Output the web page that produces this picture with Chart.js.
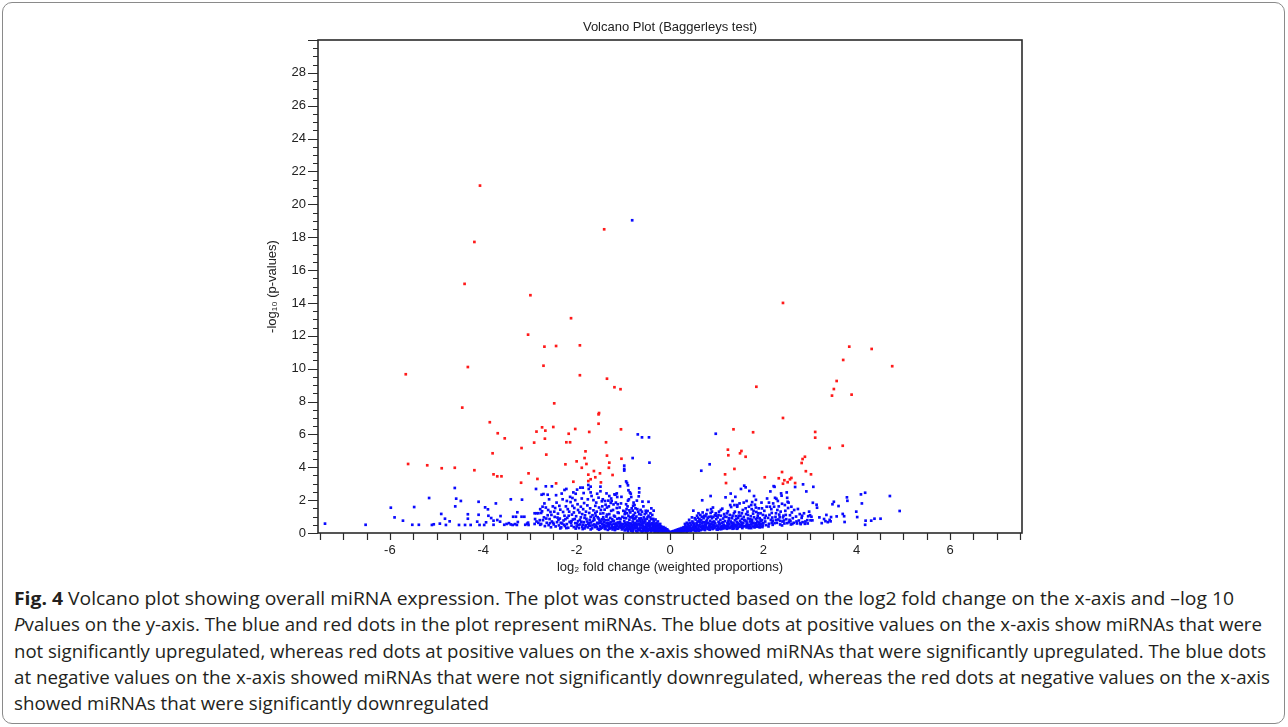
<!DOCTYPE html>
<html>
<head>
<meta charset="utf-8">
<script src="https://cdn.jsdelivr.net/npm/chart.js@4.4.1/dist/chart.umd.min.js"></script>
<style>
  html, body { margin: 0; padding: 0; background: #fff; }
  #frame { position: absolute; left: 2px; top: 2px; width: 1283px; height: 722px; border: 1px solid #8a8a8a; border-radius: 10px; box-sizing: border-box; }
  #wrap { position: absolute; left: 0; top: 0; width: 1288px; height: 580px; }
  #caption { position: absolute; left: 14px; top: 585px; font-family: "Open Sans", "Noto Sans", sans-serif; font-size: 18px; color: #231f20; line-height: 26.3px; }
  #caption div { white-space: nowrap; width: max-content; transform-origin: 0 0; }
</style>
</head>
<body>
<div id="frame"></div>
<div id="wrap"><canvas id="volcano" width="1288" height="580"></canvas></div>
<div id="caption">
  <div><b>Fig. 4</b> Volcano plot showing overall miRNA expression. The plot was constructed based on the log2 fold change on the x-axis and –log 10</div>
  <div><i>P</i>values on the y-axis. The blue and red dots in the plot represent miRNAs. The blue dots at positive values on the x-axis show miRNAs that were</div>
  <div>not significantly upregulated, whereas red dots at positive values on the x-axis showed miRNAs that were significantly upregulated. The blue dots</div>
  <div>at negative values on the x-axis showed miRNAs that were not significantly downregulated, whereas the red dots at negative values on the x-axis</div>
  <div>showed miRNAs that were significantly downregulated</div>
</div>
<script>
// axis ranges / ticks
const xRange = [-7.54, 7.54];
const yRange = [0, 30];
const xLabelStep = 2;
const yLabelStep = 2;
const minorStep = 0.5;

// significant (red) miRNAs: [log2 FC, -log10 p]
const sigDown = [
  [-4.07,21.14],[-1.41,18.48],[-4.19,17.71],[-4.40,15.16],[-2.99,14.47],[-2.12,13.07],[-3.04,12.07],
  [-2.69,11.34],[-2.44,11.38],[-1.93,11.42],[-4.33,10.10],[-2.71,10.18],[-5.66,9.66],[-1.93,9.60],
  [-1.35,9.39],[-1.19,8.87],[-1.06,8.75],[-4.45,7.63],[-2.48,7.89],[-1.52,7.30],[-1.53,7.22],[-1.53,6.65],
  [-3.86,6.74],[-3.69,6.07],[-3.54,5.76],[-2.74,6.43],[-2.86,6.17],[-2.67,6.23],[-2.50,6.45],[-2.68,5.74],
  [-2.91,5.50],[-2.03,6.33],[-2.17,6.04],[-2.22,5.52],[-2.14,5.52],[-1.73,6.15],[-1.05,6.31],[-1.37,5.52],
  [-3.18,5.17],[-3.80,4.85],[-2.65,4.77],[-1.81,4.97],[-1.83,4.56],[-2.00,4.36],[-1.79,4.20],[-1.89,3.97],
  [-2.24,4.18],[-1.35,4.71],[-1.30,4.28],[-1.31,3.97],[-1.04,4.52],[-1.63,3.77],[-1.75,3.55],[-1.70,3.27],
  [-1.60,3.39],[-1.50,3.63],[-1.48,3.08],[-1.75,3.16],[-1.23,3.53],[-2.07,3.12],[-2.84,3.29],[-3.03,3.63],
  [-3.19,3.06],[-2.44,3.02],[-3.78,3.57],[-3.70,3.45],[-3.61,3.45],[-4.19,3.82],[-5.61,4.20],[-5.20,4.12],
  [-4.89,3.94],[-4.61,3.97]
];
const sigUp = [
  [2.42,14.0],[3.84,11.34],[4.32,11.2],[3.71,10.53],[4.76,10.15],[3.57,9.25],[3.51,8.76],[3.47,8.36],
  [3.89,8.42],[1.85,8.9],[2.42,7.0],[1.36,6.31],[1.78,6.13],[3.11,6.15],[3.11,5.80],[3.42,5.17],[3.70,5.31],
  [1.24,5.07],[1.25,4.73],[1.53,4.99],[1.50,4.85],[1.62,4.64],[2.89,4.64],[2.84,4.50],[2.82,4.26],[1.38,3.90],
  [1.18,3.57],[2.91,3.76],[3.02,3.57],[2.03,3.39],[2.40,3.71],[2.33,3.33],[2.45,3.21],[2.52,3.09],[2.57,3.27],
  [2.60,3.35],[2.42,3.00],[2.68,3.04],[1.20,3.04]
];

// not significant (blue) miRNAs
const nsFarLeft = [
  [-7.39,0.57],[-6.52,0.50],[-5.98,1.54],[-5.90,0.95],[-5.72,0.75],[-5.52,0.50],[-5.38,0.50],[-5.48,1.58],
  [-5.16,2.13],[-5.10,0.49],[-5.06,0.53],[-4.93,0.57],[-4.80,0.49],[-4.90,1.16],[-4.82,0.87],[-4.72,0.71],
  [-4.61,2.74],[-4.58,2.09],[-4.48,1.95],[-4.60,1.62],[-4.52,0.49],[-4.39,0.49],[-4.27,0.49],[-4.33,1.14],
  [-4.33,0.87],[-4.13,0.69],[-4.08,0.49],[-3.98,0.49],[-4.10,1.90],[-4.10,1.11],[-3.96,1.56],[-3.90,1.44],
  [-3.89,1.05],[-3.83,0.91],[-3.78,0.75],[-3.78,0.50],[-3.94,0.65],[-3.73,1.80],[-3.70,0.79],[-3.63,1.03],
  [-3.64,0.69],[-3.55,0.50],[-3.50,0.55],[-3.45,0.60],[-3.41,0.52],[-3.37,0.49],[-3.32,0.54],[-3.28,0.49],
  [-3.41,2.05],[-3.36,0.99],[-3.30,0.99],[-3.27,1.26],[-3.17,2.03],[-3.18,0.99],[-3.12,0.99],[-3.26,0.67],
  [-3.10,0.50],[-3.06,0.57],[-3.04,0.63],[-3.03,0.49],[-2.90,1.20],[-2.86,1.20],[-2.82,1.20],[-2.89,0.85],
  [-2.86,0.70],[-2.82,0.62],[-2.79,0.78],[-2.76,1.22],[-2.90,0.55],[-2.78,0.50],[-2.87,2.68],[-2.75,2.33],
  [-2.73,1.60]
];
const nsLeftUpper = [
  [-0.81,19.03],[-0.69,6.00],[-0.60,5.82],[-0.45,5.82],[-0.80,4.56],[-0.44,4.28],[-0.98,4.10],[-0.98,3.90],
  [-0.98,3.80],[-0.94,3.14],[-0.92,3.04],[-0.90,2.90],[-2.66,2.84],[-2.53,2.84],[-2.71,2.37],[-2.62,2.33],
  [-2.26,2.62],[-2.22,2.68],[-2.07,2.47],[-2.02,2.39],[-2.09,2.13],[-1.99,2.64],[-1.92,2.76],[-1.87,2.76],
  [-1.85,2.43],[-1.75,2.92],[-1.74,2.68],[-1.70,2.82],[-1.70,2.47],[-1.49,2.82],[-1.49,2.54],[-1.56,2.39],
  [-1.36,2.41],[-1.30,2.25],[-1.17,2.33],[-1.14,2.41],[-1.13,2.19],[-1.07,2.84],[-1.46,1.93],[-1.38,1.72],
  [-1.32,1.97],[-1.27,1.83],[-1.21,1.74],[-0.89,2.60],[-0.86,2.47],[-0.84,2.39],[-0.83,2.19],[-0.90,1.97],
  [-0.66,2.72],[-0.66,2.47],[-0.67,2.23],[-0.59,1.91],[-0.71,1.97],[-0.78,1.85],[-0.79,1.66],[-0.74,1.50],
  [-0.80,1.36],[-0.46,1.90],[-0.48,1.34],[-0.40,1.50],[-0.35,1.36],[-0.51,1.22],
  [-2.69,1.80],[-2.65,0.88],[-2.61,1.40],[-2.59,2.05],[-2.54,1.10],[-2.50,0.62],[-2.46,1.52],[-2.44,2.30],
  [-2.41,0.94],[-2.37,1.65],[-2.34,0.62],[-2.32,2.40],[-2.29,1.28],[-2.24,0.84],[-2.21,1.95],[-2.17,1.05],
  [-2.14,2.20],[-2.11,0.72],[-2.09,1.65],[-2.06,1.25],[-2.03,2.00]
];
const nsLeftMid = [
  [-2.78,1.45],[-2.74,1.32],[-2.72,0.78],[-2.70,0.95],[-2.68,0.42],[-2.66,1.55],[-2.64,0.62],[-2.62,1.08],
  [-2.60,0.48],[-2.58,0.85],[-2.56,1.28],[-2.55,0.35],[-2.53,0.70],[-2.51,1.62],[-2.49,0.52],[-2.47,0.98],
  [-2.45,0.40],[-2.43,1.85],[-2.42,0.66],[-2.40,1.18],[-2.38,0.46],[-2.36,0.88],[-2.35,1.42],[-2.33,0.34],
  [-2.31,0.58],[-2.30,2.05],[-2.28,0.76],[-2.26,1.05],[-2.25,0.42],[-2.23,1.62],[-2.21,0.54],[-2.20,0.92],
  [-2.18,0.32],[-2.16,1.30],[-2.15,0.68],[-2.13,1.88],[-2.11,0.45],[-2.10,1.12],[-2.08,0.82],[-2.06,0.36],
  [-2.05,1.52],[-2.03,0.60],[-2.01,1.02],[-2.00,0.40],[-1.98,1.75],[-1.97,0.72],[-1.95,0.30],[-1.94,1.25],
  [-1.92,0.52],[-1.91,0.95],[-1.89,2.10],[-1.88,0.38],[-1.86,1.45],[-1.85,0.66],[-1.83,0.28],[-1.82,1.08],
  [-1.80,0.48],[-1.79,0.86],[-1.77,1.68],[-1.76,0.34],[-1.74,0.62],[-1.73,1.22],[-1.71,0.44],[-1.70,0.98],
  [-1.68,2.25],[-1.67,0.28],[-1.65,0.74],[-1.64,1.38],[-1.62,0.52],[-1.61,0.36],[-1.59,1.05],[-1.58,1.85],
  [-1.56,0.62],[-1.55,0.26],[-1.53,0.88],[-1.52,1.55],[-1.50,0.42],[-1.49,1.18],[-1.47,0.70],[-1.46,0.32],
  [-1.44,2.05],[-1.43,0.96],[-1.41,0.50],[-1.40,1.42],[-1.38,0.24],[-1.37,0.78],[-1.35,1.12],[-1.34,0.40],
  [-1.32,0.62],[-1.31,1.62],[-1.29,0.30],[-1.28,0.92],[-1.26,1.35],[-1.25,0.48],[-1.23,0.22],[-1.22,0.72],
  [-1.20,1.05],[-1.19,2.35],[-1.17,0.38],[-1.16,0.58],[-1.14,1.52],[-1.13,0.86],[-1.11,0.26],[-1.10,1.22],
  [-1.08,0.46],[-1.07,0.68],[-1.05,1.80],[-1.04,0.32],[-1.02,0.98],[-1.01,0.54],
  [-2.76,0.55],[-2.57,0.60],[-2.48,1.30],[-2.39,0.80],[-2.27,0.50],[-2.19,1.45],[-2.12,0.62],[-2.04,0.85],
  [-1.96,0.48],[-1.90,0.68],[-1.84,1.82],[-1.81,0.40],[-1.75,0.55],[-1.72,0.80],[-1.66,0.46],[-1.63,0.92],
  [-1.60,1.20],[-1.57,0.38],[-1.54,0.58],[-1.51,0.76],[-1.48,0.30],[-1.45,0.55],[-1.42,0.82],[-1.39,0.36],
  [-1.36,1.00],[-1.33,0.52],[-1.30,0.26],[-1.27,0.66],[-1.24,0.84],[-1.21,0.34],[-1.18,0.52],[-1.15,0.28],
  [-1.12,0.64],[-1.09,0.90],[-1.06,0.40],[-1.03,0.22],[-1.60,1.65],[-1.45,1.62],[-1.25,1.95],[-1.12,1.75],
  [-2.35,0.28],[-2.22,0.30],[-2.02,0.27],[-1.87,0.24],[-1.70,0.22],[-1.52,0.20],[-1.33,0.19],[-1.18,0.18],
  [-1.99,0.58],[-1.97,1.40],[-1.93,0.80],[-1.91,1.60],[-1.88,1.15],[-1.86,0.50],[-1.83,0.92],[-1.80,1.30],
  [-1.78,0.70],[-1.76,2.05],[-1.73,0.48],[-1.71,1.50],[-1.69,0.64],[-1.66,1.08],[-1.64,2.00],[-1.62,0.80],
  [-1.59,0.46],[-1.57,1.30],[-1.55,0.96],[-1.53,2.15],[-1.50,0.62],[-1.48,1.40],[-1.46,0.84],[-1.43,1.20],
  [-1.41,0.66],[-1.39,1.95],[-1.37,0.44],[-1.35,1.55],[-1.32,0.80],[-1.30,1.15],[-1.28,0.56],[-1.26,2.10],
  [-1.24,0.36],[-1.22,1.40],[-1.20,0.74],[-1.18,1.00],[-1.16,1.85],[-1.14,0.44],[-1.12,1.25],[-1.10,0.60],
  [-1.08,1.55],[-1.06,0.86],[-1.04,2.20],[-1.02,0.42],[-1.49,0.26],[-1.44,0.40],[-1.40,0.28],[-1.36,0.60],
  [-1.31,0.44],[-1.26,0.30],[-1.21,0.56],[-1.17,0.24],[-1.13,0.46],[-1.09,0.34],[-1.05,0.56],[-1.01,0.28]
];
const nsLeftNear = [
  [-0.99,0.35],[-0.98,0.72],[-0.97,1.15],[-0.96,0.20],[-0.95,0.52],[-0.94,0.90],[-0.93,1.45],[-0.92,0.30],
  [-0.91,0.64],[-0.90,0.16],[-0.89,1.05],[-0.88,0.42],[-0.87,0.80],[-0.86,0.24],[-0.85,1.25],[-0.84,0.56],
  [-0.83,0.14],[-0.82,0.95],[-0.81,0.36],[-0.80,0.70],[-0.79,0.20],[-0.78,1.10],[-0.77,0.48],[-0.76,0.85],
  [-0.75,0.28],[-0.74,0.62],[-0.73,0.13],[-0.72,1.00],[-0.71,0.40],[-0.70,0.75],[-0.69,0.22],[-0.68,1.30],
  [-0.67,0.54],[-0.66,0.88],[-0.65,0.16],[-0.64,0.34],[-0.63,0.66],[-0.62,1.12],[-0.61,0.12],[-0.60,0.46],
  [-0.59,0.80],[-0.58,0.26],[-0.57,0.58],[-0.56,0.95],[-0.55,0.18],[-0.54,0.38],[-0.53,0.70],[-0.52,0.10],
  [-0.51,0.52],[-0.50,0.86],[-0.49,0.28],[-0.48,0.60],[-0.47,0.14],[-0.46,1.05],[-0.45,0.42],[-0.44,0.74],
  [-0.43,0.20],[-0.42,0.50],[-0.41,0.09],[-0.40,0.84],[-0.39,0.32],[-0.38,0.60],[-0.37,0.15],[-0.36,0.44],
  [-0.35,0.72],[-0.34,0.24],[-0.33,0.07],[-0.32,0.52],[-0.31,0.35],[-0.30,0.12],[-0.29,0.62],[-0.28,0.26],
  [-0.27,0.42],[-0.26,0.08],[-0.25,0.18],[-0.24,0.34],[-0.23,0.50],[-0.22,0.12],[-0.21,0.26],[-0.20,0.06],
  [-0.19,0.40],[-0.18,0.18],[-0.17,0.10],[-0.16,0.30],[-0.15,0.05],[-0.14,0.20],[-0.13,0.13],[-0.12,0.26],
  [-0.11,0.04],[-0.10,0.16],[-0.09,0.09],[-0.08,0.20],[-0.07,0.03],[-0.06,0.12],[-0.05,0.06],[-0.04,0.14],
  [-0.03,0.02],[-0.02,0.08],[-0.01,0.03],
  [-0.97,0.45],[-0.94,0.25],[-0.91,1.62],[-0.88,0.60],[-0.85,0.32],[-0.82,0.50],[-0.79,0.88],[-0.76,0.40],
  [-0.73,0.56],[-0.70,0.32],[-0.67,0.20],[-0.64,0.78],[-0.61,0.30],[-0.58,0.42],[-0.55,0.64],[-0.52,0.34],
  [-0.49,0.16],[-0.46,0.56],[-0.43,0.36],[-0.40,0.22],[-0.37,0.52],[-0.34,0.40],[-0.31,0.20],[-0.28,0.14],
  [-0.25,0.30],[-0.22,0.22],[-0.19,0.14],[-0.16,0.22],[-0.13,0.06],[-0.96,1.30],[-0.87,1.38],[-0.75,1.22],
  [-0.63,1.40],[-0.54,1.15],[-0.57,1.62],[-0.42,0.95],[-0.38,1.10],[-0.31,0.82],[-0.26,0.70],[-0.21,0.55],
  [-0.90,0.10],[-0.80,0.09],[-0.70,0.08],[-0.60,0.07],[-0.50,0.06],
  [-1.00,1.35],[-0.98,0.92],[-0.96,0.62],[-0.94,1.75],[-0.92,1.20],[-0.90,0.50],[-0.88,2.05],[-0.86,0.96],
  [-0.84,0.40],[-0.82,1.50],[-0.80,1.02],[-0.78,0.58],[-0.76,1.70],[-0.74,0.92],[-0.72,0.44],[-0.70,1.45],
  [-0.68,0.70],[-0.66,1.15],[-0.64,0.50],[-0.62,0.90],[-0.60,1.30],[-0.58,0.66],[-0.56,0.30],[-0.54,0.82],
  [-0.52,1.35],[-0.50,0.46],[-0.48,0.96],[-0.46,0.26],[-0.44,0.62],[-0.42,1.20],[-0.40,0.54],[-0.38,0.30],
  [-0.36,0.86],[-0.34,0.58],[-0.32,0.18],[-0.30,0.46],[-0.28,0.36],[-0.26,0.52],[-0.24,0.16],[-0.22,0.40],
  [-0.20,0.28],[-0.18,0.32],[-0.14,0.36],[-0.12,0.18],[-0.10,0.30],[-0.08,0.11],[-0.06,0.22],[-0.04,0.08],
  [-0.97,0.16],[-0.93,0.40],[-0.89,0.28],[-0.85,0.58],[-0.81,0.22],[-0.77,0.32],[-0.73,0.42],[-0.69,0.52],
  [-0.65,0.26],[-0.61,0.56],[-0.57,0.12],[-0.53,0.22],[-0.49,0.42],[-0.45,0.20],[-0.41,0.30],[-0.37,0.24],
  [-0.33,0.32],[-0.29,0.22],[-0.27,0.10]
];
const nsRightNear = [
  [0.01,0.02],[0.02,0.05],[0.03,0.03],[0.04,0.08],[0.05,0.04],[0.06,0.10],[0.07,0.06],[0.08,0.12],
  [0.09,0.03],[0.10,0.08],[0.11,0.15],[0.12,0.05],[0.13,0.10],[0.14,0.18],[0.15,0.07],[0.16,0.13],
  [0.17,0.22],[0.18,0.09],[0.19,0.16],[0.20,0.05],[0.21,0.26],[0.22,0.12],[0.23,0.19],[0.24,0.08],
  [0.25,0.30],[0.26,0.14],[0.27,0.22],[0.28,0.10],[0.29,0.35],[0.30,0.18],
  [0.31,0.10],[0.32,0.28],[0.33,0.45],[0.34,0.16],[0.35,0.36],[0.36,0.08],[0.37,0.24],[0.38,0.52],
  [0.39,0.14],[0.40,0.32],[0.41,0.20],[0.42,0.62],[0.43,0.40],[0.44,0.12],[0.45,0.28],[0.46,0.48],
  [0.47,0.18],[0.48,0.70],[0.49,0.34],[0.50,1.36],[0.51,0.22],[0.52,0.56],[0.53,0.14],[0.54,0.40],
  [0.55,0.82],[0.56,0.28],[0.57,0.60],[0.58,0.16],[0.59,0.46],[0.60,0.92],[0.61,0.32],[0.62,0.70],
  [0.63,0.20],[0.64,0.52],[0.65,1.10],[0.66,0.38],[0.67,0.78],[0.68,0.24],[0.69,0.58],[0.70,1.25],
  [0.71,0.44],[0.72,0.90],[0.73,0.30],[0.74,0.66],[0.75,0.18],[0.76,1.02],[0.77,0.50],[0.78,0.36],
  [0.79,0.80],[0.80,1.40],[0.81,0.26],[0.82,0.60],[0.83,0.98],[0.84,0.42],[0.85,0.20],[0.86,0.74],
  [0.87,1.22],[0.88,0.34],[0.89,0.56],[0.90,0.90],[0.91,0.24],[0.92,1.55],[0.93,0.48],[0.94,0.70],
  [0.95,0.30],[0.96,1.08],[0.97,0.58],[0.98,0.40],[0.99,0.84],[1.00,0.22],
  [0.35,0.20],[0.40,0.44],[0.45,0.14],[0.50,0.62],[0.55,0.34],[0.60,0.24],[0.65,0.68],[0.70,0.34],
  [0.75,0.52],[0.80,0.62],[0.85,0.48],[0.90,0.40],[0.95,0.64],[0.62,0.44],[0.72,0.22],[0.82,0.30],
  [0.92,0.28],[0.58,1.05],[0.68,0.98],[0.78,1.15],[0.88,1.00],[0.98,1.20],[0.69,1.99],[0.87,2.25],
  [0.67,3.79],[0.85,4.18],[0.98,6.04],[0.90,1.30],
  [0.32,0.55],[0.36,0.62],[0.41,0.80],[0.44,0.58],[0.47,0.95],[0.51,0.42],[0.53,0.90],[0.56,0.12],
  [0.59,0.70],[0.61,1.20],[0.63,0.84],[0.66,0.18],[0.69,0.40],[0.71,0.66],[0.73,1.05],[0.76,0.28],
  [0.78,0.70],[0.81,0.92],[0.83,0.24],[0.86,0.56],[0.88,1.45],[0.91,0.66],[0.93,0.98],[0.96,0.36],
  [0.99,1.05],[0.42,0.28],[0.52,0.30],[0.62,0.14],[0.74,0.40],[0.84,0.30],[0.94,0.44],[0.33,0.24],
  [0.38,0.36],[0.48,0.20],[0.57,0.50]
];
const nsRightMid = [
  [1.01,0.45],[1.02,0.95],[1.03,0.30],[1.04,0.68],[1.05,1.30],[1.06,0.52],[1.07,0.24],[1.08,0.80],
  [1.09,1.05],[1.10,0.38],[1.11,0.62],[1.12,1.48],[1.13,0.28],[1.14,0.88],[1.15,0.50],[1.16,1.15],
  [1.17,0.34],[1.18,0.72],[1.19,2.17],[1.20,0.44],[1.21,0.98],[1.22,0.26],[1.23,0.60],[1.24,1.32],
  [1.25,0.40],[1.26,0.82],[1.27,0.55],[1.28,1.10],[1.29,0.30],[1.30,0.70],[1.31,1.58],[1.32,0.46],
  [1.33,0.90],[1.34,1.95],[1.35,0.36],[1.36,0.62],[1.37,1.20],[1.38,0.28],[1.39,0.78],[1.40,0.50],
  [1.41,1.02],[1.42,0.40],[1.43,0.66],[1.44,1.70],[1.45,0.32],[1.46,0.92],[1.47,0.54],[1.48,1.25],
  [1.49,0.38],[1.50,0.74],[1.51,1.05],[1.52,2.68],[1.53,0.46],[1.54,0.86],[1.55,0.30],[1.56,1.40],
  [1.57,0.62],[1.58,0.98],[1.59,2.88],[1.60,0.42],[1.61,0.76],[1.62,2.78],[1.63,1.15],[1.64,0.34],
  [1.65,0.58],[1.66,1.30],[1.67,0.88],[1.68,0.44],[1.69,1.60],[1.70,2.56],[1.71,0.70],[1.72,0.36],
  [1.73,1.02],[1.74,0.52],[1.75,1.45],[1.76,0.80],[1.77,0.40],[1.78,1.18],[1.79,0.62],[1.80,0.96],
  [1.81,0.34],[1.82,1.72],[1.83,0.54],[1.84,0.84],[1.85,1.28],[1.86,0.46],[1.87,0.70],[1.88,1.05],
  [1.89,0.38],[1.90,1.50],[1.91,0.64],[1.92,0.90],[1.93,0.44],[1.94,1.20],[1.95,0.56],[1.96,1.85],
  [1.97,0.78],[1.98,0.36],[1.99,1.10],[2.00,0.60],
  [1.05,0.60],[1.15,0.30],[1.25,0.70],[1.35,0.52],[1.45,0.60],[1.55,0.56],[1.65,0.40],[1.75,0.66],
  [1.85,0.60],[1.95,0.72],[1.10,0.24],[1.30,0.38],[1.50,0.48],[1.70,0.50],[1.90,0.52],[1.44,1.60],
  [1.38,1.70],[1.58,1.85],[1.64,1.95],[1.76,1.88],[1.84,2.02],[1.40,2.20],[1.30,2.40],[1.80,2.25],
  [1.02,0.20],[1.04,1.10],[1.07,0.55],[1.09,1.40],[1.12,0.42],[1.14,0.66],[1.17,1.00],[1.19,0.30],
  [1.22,1.20],[1.24,0.50],[1.27,0.90],[1.29,1.70],[1.32,0.62],[1.34,1.05],[1.37,0.44],[1.39,1.30],
  [1.42,0.84],[1.44,0.26],[1.47,1.05],[1.49,1.80],[1.52,0.64],[1.54,1.20],[1.57,0.40],[1.59,0.80],
  [1.62,1.50],[1.64,0.70],[1.67,1.10],[1.69,0.30],[1.72,0.84],[1.74,1.70],[1.77,0.58],[1.79,1.35],
  [1.82,0.44],[1.84,1.55],[1.87,0.90],[1.89,1.20],[1.92,0.34],[1.94,0.80],[1.97,1.50],[1.99,0.46],
  [1.04,0.38],[1.14,0.44],[1.24,0.30],[1.34,0.26],[1.44,0.46],[1.54,0.38],[1.64,0.50],[1.74,0.30],
  [1.84,0.38],[1.94,0.40]
];
const nsRightFar = [
  [2.02,1.35],[2.04,0.70],[2.06,0.48],[2.08,2.10],[2.10,0.92],[2.12,0.56],[2.14,1.60],[2.15,2.53],
  [2.16,0.80],[2.18,1.22],[2.20,0.50],[2.22,2.85],[2.23,1.60],[2.24,2.81],[2.25,2.14],[2.26,0.98],
  [2.28,2.08],[2.29,0.62],[2.30,1.40],[2.32,0.82],[2.34,1.12],[2.36,0.52],[2.38,2.41],[2.39,2.27],
  [2.40,1.78],[2.41,0.70],[2.43,1.05],[2.45,0.58],[2.47,1.35],[2.49,0.84],[2.50,2.47],[2.51,2.14],
  [2.52,1.90],[2.53,1.52],[2.55,0.66],[2.57,1.08],[2.59,0.52],[2.61,1.25],[2.63,0.90],[2.65,0.62],
  [2.68,2.80],[2.70,1.00],[2.72,0.58],[2.74,1.46],[2.76,0.76],[2.78,1.15],[2.80,0.54],[2.82,0.92],
  [2.84,0.66],[2.85,2.96],[2.87,1.20],[2.89,0.56],[2.92,2.53],[2.94,0.78],[2.96,1.02],[2.98,1.30],
  [3.00,1.08],[3.01,0.77],[3.03,0.99],[3.05,0.77],[3.06,1.84],[3.07,2.81],[3.14,1.72],[3.15,1.54],
  [2.05,1.05],[2.12,1.85],[2.20,0.75],[2.27,1.20],[2.33,1.62],[2.42,0.95],[2.46,1.70],[2.56,0.80],
  [2.62,0.55],[2.66,1.40],[2.71,0.70],[2.79,0.60],[2.83,1.05],[2.90,0.70],[2.95,0.58],[2.18,0.62],
  [2.36,0.74],[3.25,0.60],[3.30,0.85],[3.33,0.72],[3.38,0.66],[3.42,0.80],[3.44,0.71],[3.45,0.97],
  [3.48,1.75],[3.51,1.90],[3.57,1.01],[3.61,1.64],[3.70,1.16],[3.73,1.02],[3.74,0.67],[3.79,2.17],
  [3.80,1.96],[3.99,1.30],[4.01,0.97],[4.09,2.35],[4.18,2.45],[4.11,1.80],[4.71,2.25],[4.92,1.34],
  [4.19,0.75],[4.18,0.50],[4.31,0.75],[4.38,0.87],[4.51,0.87],[3.20,0.95],[3.35,1.10],
  [2.03,0.90],[2.07,1.60],[2.11,0.40],[2.13,1.10],[2.17,1.45],[2.19,0.94],[2.21,1.80],[2.24,0.60],
  [2.27,0.80],[2.31,1.95],[2.35,0.96],[2.37,1.30],[2.40,0.46],[2.44,0.76],[2.48,1.10],[2.51,0.60],
  [2.54,1.85],[2.58,0.72],[2.60,1.60]
];

const toXY = arr => arr.map(p => ({ x: p[0], y: p[1] }));
const redPoints = toXY(sigDown.concat(sigUp));
const bluePoints = toXY([].concat(nsFarLeft, nsLeftUpper, nsLeftMid, nsLeftNear, nsRightNear, nsRightMid, nsRightFar));

// frame, minor/major tick marks and title drawn against the chart's own scales
const frameTicks = {
  id: 'frameTicks',
  afterDraw(chart) {
    const { ctx, chartArea: a, scales: { x, y } } = chart;
    ctx.save();
    ctx.strokeStyle = '#2b2b2b';
    ctx.lineWidth = 1.2;
    ctx.beginPath();
    for (let v = -7.5; v <= 7.5; v += minorStep) {
      const px = Math.round(x.getPixelForValue(v)) + 0.5;
      ctx.moveTo(px, a.bottom);
      ctx.lineTo(px, a.bottom + 7);
    }
    for (let v = yRange[0]; v <= yRange[1]; v += minorStep) {
      const py = Math.round(y.getPixelForValue(v)) + 0.5;
      const len = (v % yLabelStep === 0) ? 10 : 5;
      ctx.moveTo(a.left, py);
      ctx.lineTo(a.left - len, py);
    }
    ctx.stroke();
    ctx.lineWidth = 1.6;
    ctx.strokeRect(a.left, a.top, a.right - a.left, a.bottom - a.top);
    ctx.fillStyle = '#222';
    ctx.font = '13px "Liberation Sans", Arial, sans-serif';
    ctx.textAlign = 'center';
    ctx.textBaseline = 'middle';
    ctx.fillText('Volcano Plot (Baggerleys test)', (a.left + a.right) / 2, 27);
    ctx.restore();
  }
};

Chart.defaults.font.family = '"Liberation Sans", Arial, sans-serif';
Chart.defaults.font.size = 13;
Chart.defaults.color = '#222';

new Chart(document.getElementById('volcano').getContext('2d'), {
  type: 'scatter',
  data: {
    datasets: [
      { label: 'significant', data: redPoints, backgroundColor: '#ff1a1a', borderWidth: 0, pointStyle: 'rect', pointRadius: 1.9 },
      { label: 'not significant', data: bluePoints, backgroundColor: '#0a0aff', borderWidth: 0, pointStyle: 'rect', pointRadius: 1.9 }
    ]
  },
  options: {
    responsive: false,
    animation: false,
    events: [],
    layout: { padding: { left: 258, right: 266, top: 40, bottom: 0 } },
    plugins: { legend: { display: false }, tooltip: { enabled: false } },
    scales: {
      x: {
        type: 'linear',
        min: xRange[0], max: xRange[1],
        grid: { display: false, drawTicks: false },
        border: { display: false },
        ticks: { stepSize: xLabelStep, includeBounds: false, padding: 10, color: '#222' },
        title: { display: true, text: 'log₂ fold change (weighted proportions)', padding: { top: 0, bottom: 5 }, color: '#222' },
        afterFit(scale) { scale.height = 47; }
      },
      y: {
        type: 'linear',
        min: yRange[0], max: yRange[1],
        grid: { display: false, drawTicks: false },
        border: { display: false },
        ticks: { stepSize: yLabelStep, padding: 12, color: '#222', callback: v => (v >= yRange[1] ? null : v) },
        title: { display: true, text: '-log₁₀ (p-values)', padding: { top: 7, bottom: 0 }, color: '#222' },
        afterFit(scale) { scale.width = 60; }
      }
    }
  },
  plugins: [frameTicks]
});

// fit each caption line to the width it takes in the figure
const captionWidths = [1220, 1248, 1252, 1256, 475];
document.querySelectorAll('#caption div').forEach((line, i) => {
  const w = line.getBoundingClientRect().width;
  line.style.transform = `scaleX(${captionWidths[i] / w})`;
});
</script>
</body>
</html>
